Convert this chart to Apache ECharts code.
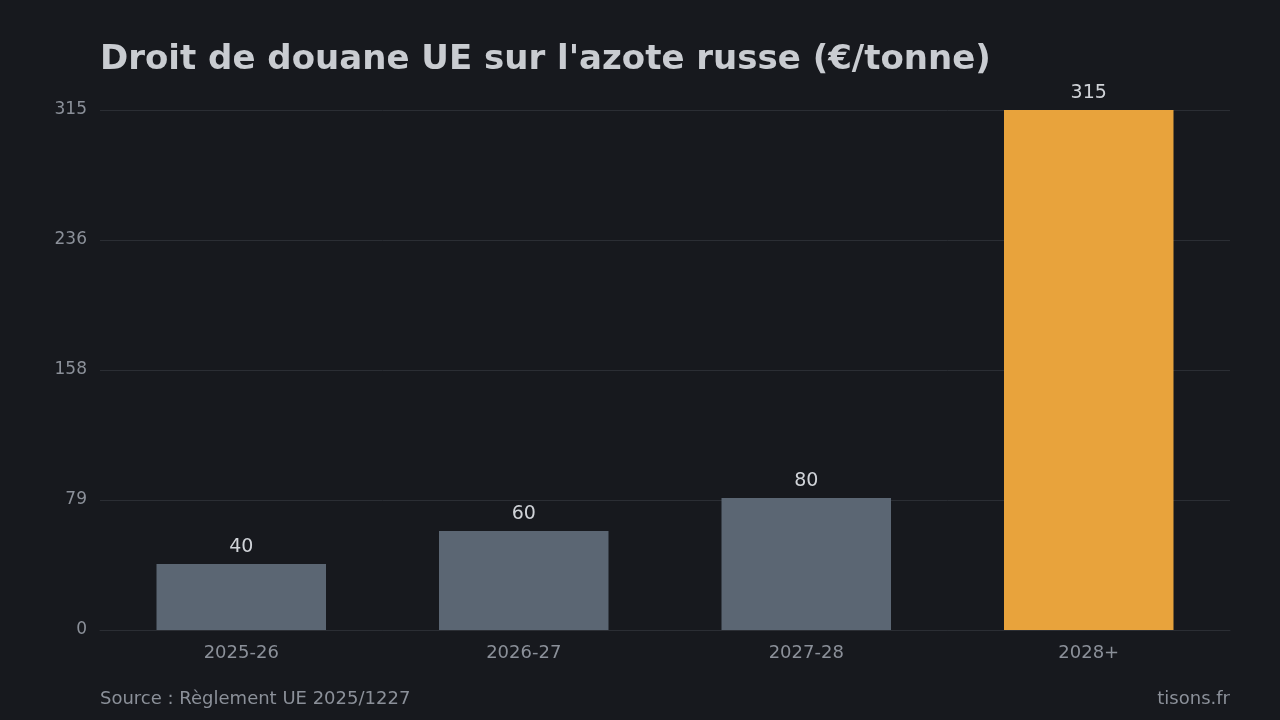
<!DOCTYPE html>
<html>
<head>
<meta charset="utf-8">
<script src="https://cdn.jsdelivr.net/npm/echarts@6/dist/echarts.min.js"></script>
<style>
  html, body { margin: 0; padding: 0; background: #17191e; }
  #chart { width: 1280px; height: 720px; }
</style>
</head>
<body>
<div id="chart"></div>
<script>
const categories = ['2025-26', '2026-27', '2027-28', '2028+'];
const values = [40, 60, 80, 315];
const barColors = ['#5b6673', '#5b6673', '#5b6673', '#e8a33c'];

const chart = echarts.init(document.getElementById('chart'));
const font = '"DejaVu Sans", sans-serif';

chart.setOption({
  backgroundColor: '#17191e',
  animation: false,
  title: {
    text: "Droit de douane UE sur l'azote russe (€/tonne)",
    left: 95,
    top: 38,
    textStyle: { color: '#c9ccd1', fontSize: 34, fontWeight: 'bold', fontFamily: font }
  },
  graphic: [
    {
      type: 'text', left: 100, top: 690,
      style: { text: 'Source : Règlement UE 2025/1227', fill: '#8b9099', fontSize: 18, fontFamily: font }
    },
    {
      type: 'text', right: 50, top: 690,
      style: { text: 'tisons.fr', fill: '#8b9099', fontSize: 18, fontFamily: font }
    }
  ],
  grid: { left: 100, right: 50, top: 110, bottom: 90 },
  xAxis: {
    type: 'category',
    data: categories,
    axisLine: { lineStyle: { color: '#2b2e34' } },
    axisTick: { show: false },
    axisLabel: { color: '#8b9099', fontSize: 18, fontFamily: font, margin: 14 }
  },
  yAxis: {
    type: 'value',
    min: 0,
    max: 315,
    interval: 78.75,
    axisLine: { show: false },
    axisTick: { show: false },
    axisLabel: {
      color: '#8b9099', fontSize: 17, fontFamily: font, margin: 13,
      formatter: v => Math.round(v)
    },
    splitLine: { lineStyle: { color: '#2b2e34' } }
  },
  series: [{
    type: 'bar',
    barWidth: '60%',
    data: values.map((v, i) => ({ value: v, itemStyle: { color: barColors[i] } })),
    label: {
      show: true, position: 'top', distance: 7,
      color: '#d0d3d8', fontSize: 19, fontFamily: font
    }
  }]
});

window.addEventListener('resize', function () {
  chart.resize();
});
</script>
</body>
</html>
